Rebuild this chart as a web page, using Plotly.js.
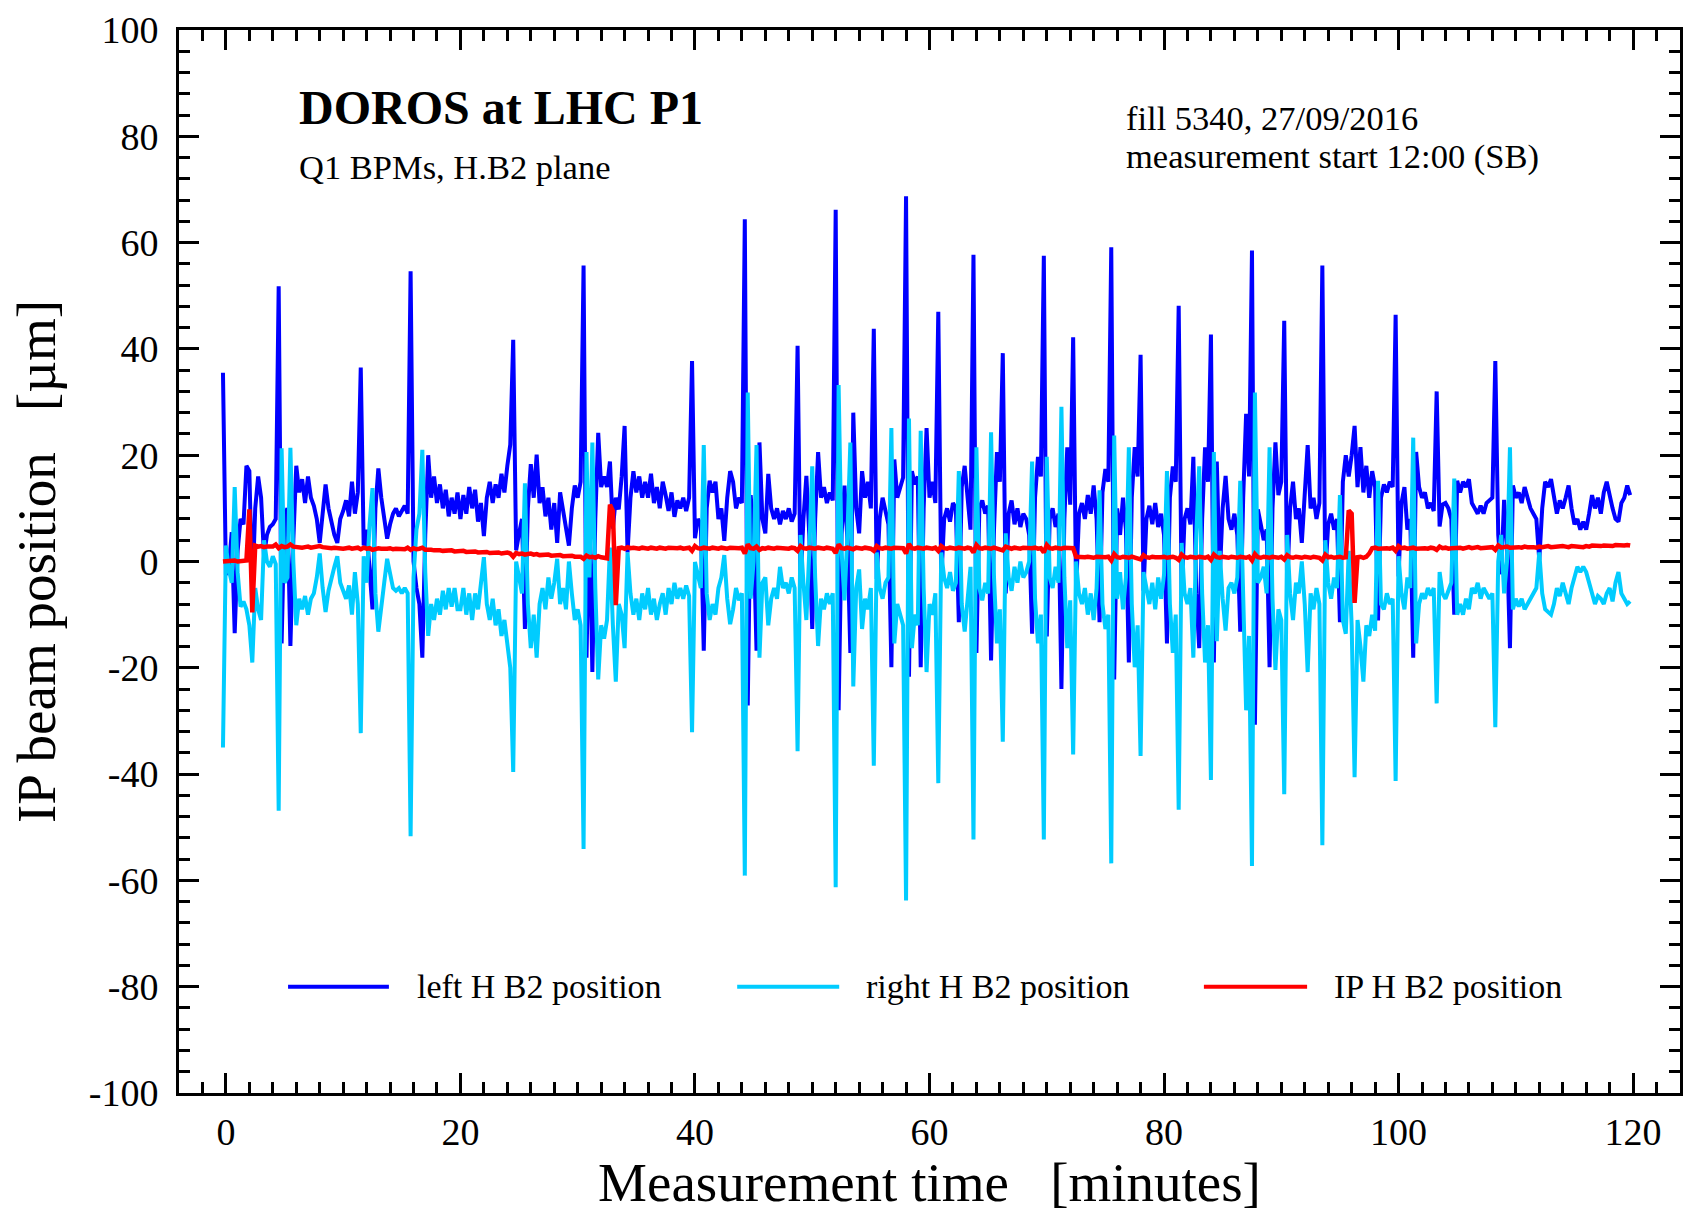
<!DOCTYPE html>
<html><head><meta charset="utf-8">
<script src="https://cdn.plot.ly/plotly-3.0.1.min.js"></script>
<style>html,body{margin:0;padding:0;background:#fff;} #chart{width:1683px;height:1213px;}</style>
</head><body><div id="chart"></div>
<script>
// Measurement time [minutes]
const timeMin = [-0.25,
0,0.25,0.5,0.75,1,1.25,1.5,1.75,2,2.25,2.5,2.75,3,3.25,3.5,3.75,4,4.25,4.5,4.75,
5,5.25,5.5,5.75,6,6.25,6.5,6.75,7,7.25,7.5,7.75,8,8.25,8.5,8.75,9,9.25,9.5,9.75,
10,10.25,10.5,10.75,11,11.25,11.5,11.75,12,12.25,12.5,12.75,13,13.25,13.5,13.75,14,14.25,14.5,14.75,
15,15.25,15.5,15.75,16,16.25,16.5,16.75,17,17.25,17.5,17.75,18,18.25,18.5,18.75,19,19.25,19.5,19.75,
20,20.25,20.5,20.75,21,21.25,21.5,21.75,22,22.25,22.5,22.75,23,23.25,23.5,23.75,24,24.25,24.5,24.75,
25,25.25,25.5,25.75,26,26.25,26.5,26.75,27,27.25,27.5,27.75,28,28.25,28.5,28.75,29,29.25,29.5,29.75,
30,30.25,30.5,30.75,31,31.25,31.5,31.75,32,32.25,32.5,32.75,33,33.25,33.5,33.75,34,34.25,34.5,34.75,
35,35.25,35.5,35.75,36,36.25,36.5,36.75,37,37.25,37.5,37.75,38,38.25,38.5,38.75,39,39.25,39.5,39.75,
40,40.25,40.5,40.75,41,41.25,41.5,41.75,42,42.25,42.5,42.75,43,43.25,43.5,43.75,44,44.25,44.5,44.75,
45,45.25,45.5,45.75,46,46.25,46.5,46.75,47,47.25,47.5,47.75,48,48.25,48.5,48.75,49,49.25,49.5,49.75,
50,50.25,50.5,50.75,51,51.25,51.5,51.75,52,52.25,52.5,52.75,53,53.25,53.5,53.75,54,54.25,54.5,54.75,
55,55.25,55.5,55.75,56,56.25,56.5,56.75,57,57.25,57.5,57.75,58,58.25,58.5,58.75,59,59.25,59.5,59.75,
60,60.25,60.5,60.75,61,61.25,61.5,61.75,62,62.25,62.5,62.75,63,63.25,63.5,63.75,64,64.25,64.5,64.75,
65,65.25,65.5,65.75,66,66.25,66.5,66.75,67,67.25,67.5,67.75,68,68.25,68.5,68.75,69,69.25,69.5,69.75,
70,70.25,70.5,70.75,71,71.25,71.5,71.75,72,72.25,72.5,72.75,73,73.25,73.5,73.75,74,74.25,74.5,74.75,
75,75.25,75.5,75.75,76,76.25,76.5,76.75,77,77.25,77.5,77.75,78,78.25,78.5,78.75,79,79.25,79.5,79.75,
80,80.25,80.5,80.75,81,81.25,81.5,81.75,82,82.25,82.5,82.75,83,83.25,83.5,83.75,84,84.25,84.5,84.75,
85,85.25,85.5,85.75,86,86.25,86.5,86.75,87,87.25,87.5,87.75,88,88.25,88.5,88.75,89,89.25,89.5,89.75,
90,90.25,90.5,90.75,91,91.25,91.5,91.75,92,92.25,92.5,92.75,93,93.25,93.5,93.75,94,94.25,94.5,94.75,
95,95.25,95.5,95.75,96,96.25,96.5,96.75,97,97.25,97.5,97.75,98,98.25,98.5,98.75,99,99.25,99.5,99.75,
100,100.25,100.5,100.75,101,101.25,101.5,101.75,102,102.25,102.5,102.75,103,103.25,103.5,103.75,104,104.25,104.5,104.75,
105,105.25,105.5,105.75,106,106.25,106.5,106.75,107,107.25,107.5,107.75,108,108.25,108.5,108.75,109,109.25,109.5,109.75,
110,110.25,110.5,110.75,111,111.25,111.5,111.75,112,112.25,112.5,112.75,113,113.25,113.5,113.75,114,114.25,114.5,114.75,
115,115.25,115.5,115.75,116,116.25,116.5,116.75,117,117.25,117.5,117.75,118,118.25,118.5,118.75,119,119.25,119.5,119.75];

// left H B2 position [um]
const leftH = [35.5,
-2.5,-1.0,5.5,-13.5, 2.0,8.0,7.0,18.0, 17.0,-6.0,10.0,16.0, 12.0,1.0,5.0,6.5, 7.0,8.0,51.8,-15.4,
9.0,10.0,-15.9,4.0, 18.0,13.0,15.5,11.0, 16.0,12.0,10.5,8.0, 3.5,9.0,14.5,10.0, 7.0,5.0,3.5,8.0,
9.5,11.5,8.5,15.0, 9.0,13.0,36.5,3.0, 6.0,-3.0,-9.0,10.0, 17.5,12.0,8.0,4.3, 7.0,9.0,10.0,8.5,
9.5,10.5,9.0,54.6, 0.0,-5.0,-8.0,-18.1, 5.0,20.0,12.0,16.0, 11.0,14.5,10.0,13.5, 8.5,12.0,9.0,13.0,
8.0,12.5,9.0,14.0, 10.0,13.5,7.5,11.0, 4.8,12.0,15.0,11.0, 14.5,12.0,16.5,13.0, 18.0,22.0,41.7,2.1,
5.3,8.0,-12.7,10.0, 18.3,12.0,20.1,11.0, 14.0,8.5,12.0,6.0, 11.0,3.5,13.0,9.5, 7.0,3.0,10.0,14.3,
12.0,15.0,55.7,-18.1, 9.5,-20.8,8.0,24.2, 14.0,16.0,14.0,18.8, 6.2,12.0,9.8,16.0, 25.5,1.7,12.0,17.0,
13.0,16.0,12.0,15.0, 12.0,16.5,11.0,14.0, 10.0,15.0,12.5,9.5, 13.0,8.4,11.5,10.0, 12.0,9.5,12.0,37.7,
4.4,8.0,7.0,-16.8, 10.0,15.2,13.0,15.0, 8.0,10.0,3.9,12.0, 17.0,15.0,10.0,12.0, 11.0,64.4,-27.1,12.5,
5.0,-16.8,22.4,8.0, 5.3,16.5,10.0,8.0, 10.0,7.0,9.5,8.0, 10.0,7.5,9.0,40.6, -4.6,8.0,16.1,5.0,
-12.7,8.0,20.6,12.0, 14.0,11.0,13.0,11.5, 66.2,-28.0,5.0,14.3, 4.0,-17.2,28.0,10.0, 5.3,17.0,12.0,15.0,
10.0,43.8,-3.3,8.0, 12.0,9.0,7.0,-19.9, 19.2,12.0,14.3,15.8, 68.7,-21.7,17.0,14.5, 16.0,-19.9,10.0,25.1,
12.0,15.0,11.0,47.0, -3.7,8.0,10.0,7.5, 11.0,10.0,-11.4,14.0, 18.0,11.0,6.0,57.7, -17.2,10.0,11.5,9.0,
10.5,-18.6,6.0,20.6, 15.0,39.2,-6.0,9.0, 11.5,7.0,10.0,6.5, 9.0,8.0,5.0,-13.6, 12.0,19.7,16.0,57.5,
-14.1,8.0,10.0,6.5, 9.0,-24.0,8.0,21.5, 10.7,42.2,-5.5,9.0, 11.0,8.0,12.5,9.0, 14.3,8.0,-11.4,13.0,
17.4,15.0,59.1,-22.2, 10.0,5.0,12.0,6.0, -19.0,12.0,21.5,16.0, 38.9,-5.5,8.0,10.5, 7.0,11.0,6.5,9.0,
5.0,-15.4,12.0,17.9, 15.0,48.1,-6.4,8.0, 10.0,7.0,19.7,-6.0, -16.3,8.0,21.5,15.0, 42.7,-19.0,18.8,-2.8,
10.0,16.1,8.0,6.0, 9.0,5.0,-13.2,12.0, 27.8,16.0,58.5,-30.7, 9.8,7.0,4.0,6.0, -19.9,10.0,22.4,12.5,
15.0,45.3,-4.6,10.0, 15.0,8.0,10.0,3.5, 12.0,21.9,10.0,12.0, 8.0,11.0,55.7,-2.4, 7.0,9.0,6.0,8.0,
-11.4,15.0,20.0,16.0, 20.0,25.5,14.0,21.5, 13.0,18.0,12.0,17.0, 14.0,-11.1,12.0,14.5, 13.0,15.0,14.0,46.4,
-2.8,11.0,14.0,6.0, 8.0,-18.1,20.6,14.0, 12.0,13.0,10.0,11.0, 9.5,32.0,6.6,10.7, 11.0,10.0,8.0,-10.0,
15.2,13.0,15.0,14.0, 15.5,11.0,10.0,9.0, 10.5,9.0,11.0,11.6, 12.0,37.7,5.0,-2.4, 11.6,3.5,-16.3,14.3,
12.0,13.0,11.0,14.0, 12.0,10.0,9.0,8.0, 0.3,10.0,15.0,14.0, 15.5,12.0,9.0,11.5, 10.0,12.0,14.3,10.0,
7.0,8.0,6.0,7.5, 6.0,9.0,12.5,10.0, 12.0,9.0,13.0,15.0, 12.0,10.0,8.0,7.5, 11.0,12.0,14.3,12.5];

// right H B2 position [um]
const rightH = [-35.0,
3.0,-1.5,-4.0,14.0, -2.0,-8.5,-7.5,-9.0, -12.0,-19.0,-5.0,-9.0, -11.0,4.0,0.0,-1.0, 1.0,-0.5,-46.9,21.3,
-4.0,-3.0,21.4,0.0, -12.0,-7.0,-9.0,-6.5, -10.0,-7.0,-6.0,-3.0, 1.5,-5.0,-9.5,-5.5, -3.0,-1.0,1.0,-4.0,
-5.5,-7.0,-4.5,-10.0, -2.0,-8.0,-32.3,1.0, -4.0,7.0,13.8,-6.0, -13.2,-8.0,-4.0,0.5, -2.0,-5.0,-5.5,-5.0,
-6.0,-5.0,-6.0,-51.7, -3.0,6.0,9.0,21.0, -2.0,-14.0,-8.0,-11.0, -7.0,-10.0,-5.5,-9.0, -5.0,-8.5,-5.0,-9.0,
-9.0,-5.0,-10.0,-6.0, -11.0,-6.0,-9.0,-4.0, 0.8,-8.0,-11.0,-7.0, -12.0,-9.0,-14.0,-11.0, -16.0,-20.0,-39.6,0.0,
-3.0,-6.0,14.7,-8.0, -16.3,-10.0,-18.1,-8.0, -5.0,-9.0,-3.0,-7.0, -4.0,0.5,-8.0,-5.0, -9.0,0.0,-6.0,-11.0,
-9.0,-12.0,-54.1,20.6, -3.0,22.4,-5.0,-22.2, -12.0,-14.5,-11.0,2.6, -12.0,-22.6,-8.0,-10.0, -16.3,1.7,-6.0,-10.0,
-7.0,-11.0,-6.0,-9.0, -5.0,-10.0,-7.0,-11.0, -8.0,-6.0,-10.0,-5.0, -8.0,-4.0,-7.0,-5.0, -7.0,-4.5,-6.5,-32.1,
-0.1,-3.0,-5.0,21.9, -6.0,-11.0,-8.0,-10.0, -5.0,-3.0,1.2,-7.0, -11.8,-9.0,-5.0,-7.3, -6.0,-59.1,31.8,-7.0,
0.0,21.9,-18.1,-4.0, -3.0,-12.0,-7.0,-5.0, -7.0,-1.0,-5.0,-4.0, -6.0,-3.0,-5.0,-35.7, 5.0,-4.0,-11.0,2.0,
17.9,-3.0,-15.9,-7.0, -9.0,-6.0,-8.0,-6.0, -61.3,33.2,2.0,-7.3, 5.0,22.4,-23.5,-5.0, -1.5,-12.7,-7.0,-9.0,
-5.0,-38.4,1.7,-5.0, -7.0,-4.0,-3.0,25.1, -15.4,-8.0,-10.0,-12.0, -63.8,26.9,-16.3,-10.0, -12.0,24.6,-5.0,-20.8,
-8.0,-10.0,-6.0,-41.7, 1.7,-3.0,-5.0,-2.0, -5.5,-4.0,17.0,-8.0, -13.2,-6.0,-1.0,-52.3, 21.5,-5.0,-7.3,-4.0,
-6.0,24.3,-3.0,-15.4, -9.0,-33.9,5.3,-3.0, -5.5,-1.0,-4.0,0.0, -3.0,-2.0,0.0,18.8, -7.0,-15.4,-10.0,-52.3,
19.7,-3.0,-5.0,-1.0, -4.0,29.1,-3.0,-16.3, -7.3,-36.3,0.0,-6.0, -8.0,-5.0,-10.0,-6.0, -11.0,-5.0,13.4,-8.0,
-12.7,-10.0,-56.8,23.7, -7.0,-2.0,-9.0,-3.0, 21.5,-8.0,-19.9,-12.0, -36.6,-2.0,-5.0,-8.0, -4.0,-9.0,-3.0,-7.0,
-2.5,17.0,-8.0,-17.2, -10.0,-46.7,3.5,-6.0, -8.0,-5.0,-18.1,5.0, 17.9,-6.0,-19.0,-12.0, -41.1,20.6,-15.0,2.0,
-7.0,-13.0,-5.0,-4.0, -6.0,-3.0,15.2,-9.0, -28.0,-14.0,-57.3,31.8, -4.0,-3.0,-1.0,-6.0, 21.5,-7.0,-20.4,-9.0,
-11.0,-43.8,5.0,-6.0, -11.0,-4.0,-6.0,0.0, -8.0,-20.8,-6.0,-9.0, -5.0,-8.0,-53.4,4.0, -4.0,-7.0,-3.0,-5.0,
12.5,-11.0,-13.6,2.0, -12.0,-40.6,-11.0,-16.0, -22.6,-12.0,-14.0,-10.0, -13.0,15.2,-8.0,-9.0, -6.0,-8.0,-7.0,-41.3,
1.0,-6.0,-9.0,-3.0, -5.0,23.3,-15.4,-8.0, -6.0,-7.0,-5.0,-6.4, -5.0,-26.7,-2.0,-6.0, -7.0,-5.5,-4.0,15.6,
-10.0,-8.0,-10.0,-7.0, -9.0,-5.0,-6.0,-4.0, -7.0,-5.0,-6.0,-7.0, -6.0,-31.2,0.0,5.0, -6.0,0.0,21.5,-9.0,
-7.0,-8.5,-7.0,-9.0, -8.0,-7.0,-6.0,-5.0, 1.7,-6.0,-9.0,-9.6, -10.0,-8.0,-5.0,-6.5, -4.0,-6.0,-8.0,-5.0,
-3.0,-1.0,-2.0,-1.0, -2.0,-4.0,-6.0,-8.0, -6.5,-7.0,-8.0,-6.0, -5.0,-7.5,-4.0,-2.0, -6.0,-7.0,-8.0,-7.5];

// IP H B2 position [um]
const ipH = [0.0,
0.1,0.0,0.3,0.2, 0.0,0.1,0.0,0.2, 9.8,-9.6,3.0,2.8, 2.9,2.7,2.8,2.9, 2.8,3.2,2.5,2.9,
2.7,2.8,3.2,2.8, 2.7,2.8,2.6,2.7, 2.8,2.6,2.7,2.6, 2.9,2.7,2.6,2.7, 2.5,2.6,2.5,2.6,
2.4,2.5,2.6,2.4, 2.5,2.6,2.3,2.6, 2.4,2.5,2.2,2.4, 2.5,2.4,2.3,2.4, 2.5,2.3,2.4,2.3,
2.4,2.3,2.6,2.2, 2.5,2.3,2.4,2.6, 2.2,2.3,2.2,2.1, 2.2,2.1,2.0,2.1, 2.0,2.1,1.9,2.0,
1.9,2.0,1.8,1.9, 1.8,1.9,1.7,1.8, 1.7,1.8,1.6,1.7, 1.6,1.7,1.5,1.6, 1.7,1.5,0.9,1.6,
1.4,1.5,1.3,1.4, 1.5,1.3,1.4,1.2, 1.3,1.2,1.3,1.1, 1.2,1.1,1.2,1.0, 1.1,1.0,1.1,0.9,
1.0,0.9,0.5,1.1, 0.8,0.9,0.7,1.0, 0.8,0.7,0.6,10.7, 9.5,-8.2,2.5,2.6, 2.4,2.7,2.5,2.6,
2.5,2.4,2.6,2.5, 2.4,2.6,2.5,2.4, 2.6,2.5,2.4,2.6, 2.5,2.4,2.5,2.6, 2.4,2.5,2.6,2.0,
2.9,2.5,2.4,2.6, 2.5,2.4,2.6,2.5, 2.4,2.6,2.5,2.4, 2.6,2.5,2.4,2.5, 2.6,1.5,3.2,2.5,
2.4,2.8,2.2,2.5, 2.4,2.6,2.5,2.4, 2.6,2.5,2.4,2.5, 2.4,2.6,2.5,2.0, 2.9,2.5,2.4,2.6,
2.5,2.4,2.6,2.5, 2.4,2.6,2.5,2.4, 1.6,3.2,2.5,2.4, 2.6,2.4,2.3,2.6, 2.5,2.4,2.6,2.5,
2.4,2.0,2.9,2.5, 2.4,2.6,2.5,2.4, 2.6,2.5,2.4,2.5, 1.5,3.3,2.5,2.4, 2.6,2.5,2.4,2.6,
2.5,2.4,2.6,2.0, 2.9,2.5,2.4,2.6, 2.5,2.4,2.6,2.5, 2.4,2.6,2.5,1.7, 3.1,2.5,2.4,2.6,
2.5,2.4,2.6,2.5, 2.4,2.1,2.8,2.5, 2.4,2.6,2.5,2.4, 2.6,2.5,2.4,2.5, 2.6,2.4,2.5,1.7,
3.1,2.5,2.4,2.6, 2.5,2.4,2.6,2.5, 2.6,2.5,0.9,0.8, 0.7,0.8,0.9,0.8, 0.7,0.9,0.8,0.7,
0.8,0.9,0.2,1.4, 0.8,0.7,0.9,0.8, 0.7,0.9,0.8,0.7, 0.4,1.2,0.8,0.7, 0.9,0.8,0.7,0.8,
0.9,0.7,0.8,0.9, 0.7,0.3,1.3,0.8, 0.7,0.9,0.8,0.7, 0.9,0.8,0.7,0.9, 0.3,1.3,0.8,0.7,
0.9,0.8,0.7,0.9, 0.8,0.7,0.9,0.8, 0.7,0.9,0.2,1.4, 0.8,0.7,0.9,0.8, 0.7,0.9,0.8,0.7,
0.9,0.4,1.2,0.8, 0.7,0.9,0.8,0.7, 0.9,0.8,0.7,0.9, 0.8,0.7,0.2,1.3, 0.8,0.9,0.7,0.8,
0.9,0.7,0.8,9.6, 9.0,-7.8,0.8,0.9, 0.7,0.9,1.5,2.5, 2.6,2.4,2.5,2.6, 2.5,2.4,2.6,2.0,
2.9,2.5,2.6,2.4, 2.5,2.6,2.4,2.5, 2.6,2.5,2.4,2.6, 2.5,2.2,2.8,2.5, 2.6,2.4,2.5,2.6,
2.5,2.6,2.4,2.6, 2.7,2.5,2.6,2.7, 2.5,2.6,2.7,2.6, 2.7,2.2,3.0,2.6, 2.7,2.8,2.6,2.7,
2.8,2.7,2.6,2.8, 2.7,2.8,2.7,2.6, 2.8,2.7,2.8,2.9, 2.7,2.8,2.9,2.8, 2.9,2.8,2.7,2.9,
2.8,2.9,2.8,2.7, 2.9,2.8,3.0,2.9, 2.8,2.9,3.0,2.9, 3.0,2.9,3.1,3.0, 2.9,3.0,3.1,3.0];

const seriesNames = ['left H B2 position', 'right H B2 position', 'IP H B2 position'];
const seriesColors = ['#0000FF', '#00CCFF', '#FF0000'];
const seriesValues = [leftH, rightH, ipH];

// y tick labels (hyphen minus as in the original)
const yTickVals = [-100, -80, -60, -40, -20, 0, 20, 40, 60, 80, 100];
const yTickText = ['-100', '-80', '-60', '-40', '-20', '0', '20', '40', '60', '80', '100'];

const FONT = '"Liberation Serif", "Times New Roman", serif';

const traces = seriesValues.map((vals, i) => ({
  type: 'scatter', mode: 'lines', name: seriesNames[i],
  x: timeMin, y: vals,
  line: {color: seriesColors[i], width: i === 2 ? 4.5 : 4},
  hoverinfo: 'skip', showlegend: false
}));

// legend drawn with long line samples at y = -80
const legendLineX = [[5.3, 13.9], [43.6, 52.3], [83.4, 92.2]];
const legendTextX = [16.1, 54.4, 94.3];
const legendY = -80;

const shapes = legendLineX.map((lx, i) => ({
  type: 'line', xref: 'x', yref: 'y', x0: lx[0], x1: lx[1], y0: legendY, y1: legendY,
  line: {color: seriesColors[i], width: 4}
}));

const annoSpecs = [
  {text: '<b>DOROS at LHC P1</b>', x: 6.05, y: 85.4, size: 48},
  {text: 'Q1 BPMs, H.B2 plane', x: 6.05, y: 74.3, size: 34.5},
  {text: 'fill 5340, 27/09/2016', x: 76.6, y: 83.4, size: 34.5},
  {text: 'measurement start 12:00 (SB)', x: 76.6, y: 76.2, size: 34.5}
].concat(seriesNames.map((n, i) => ({text: n, x: legendTextX[i], y: legendY, size: 34})));

const annotations = annoSpecs.map(a => ({
  text: a.text, x: a.x, y: a.y, xref: 'x', yref: 'y',
  xanchor: 'left', yanchor: 'middle', showarrow: false,
  font: {family: FONT, size: a.size, color: '#000'}
}));

const axisCommon = {
  ticks: 'inside', ticklen: 20, tickwidth: 3, tickcolor: '#000',
  showline: true, linewidth: 3, linecolor: '#000', mirror: 'allticks',
  showgrid: false, zeroline: false,
  tickfont: {family: FONT, size: 38, color: '#000'}
};

const layout = {
  width: 1683, height: 1213,
  margin: {l: 179, r: 3, t: 30, b: 120, pad: 0},
  paper_bgcolor: '#fff', plot_bgcolor: '#fff',
  showlegend: false,
  font: {family: FONT, color: '#000'},
  xaxis: Object.assign({}, axisCommon, {
    range: [-4, 124], tick0: 0, dtick: 20,
    minor: {tick0: 0, dtick: 2, ticks: 'inside', ticklen: 11, tickwidth: 3, tickcolor: '#000', showgrid: false},
    ticklabelstandoff: 3,
    title: {text: 'Measurement time\u00a0\u00a0\u00a0[minutes]', font: {family: FONT, size: 55, color: '#000'}, standoff: 10}
  }),
  yaxis: Object.assign({}, axisCommon, {
    range: [-100, 100], tickmode: 'array', tickvals: yTickVals, ticktext: yTickText,
    minor: {tick0: 0, dtick: 4, ticks: 'inside', ticklen: 11, tickwidth: 3, tickcolor: '#000', showgrid: false},
    ticklabelstandoff: 10,
    title: {text: 'IP beam position\u00a0\u00a0\u00a0[µm]', font: {family: FONT, size: 55, color: '#000'}, standoff: 16}
  }),
  shapes: shapes,
  annotations: annotations
};

Plotly.newPlot('chart', traces, layout, {staticPlot: true, displayModeBar: false});
</script>
</body></html>
